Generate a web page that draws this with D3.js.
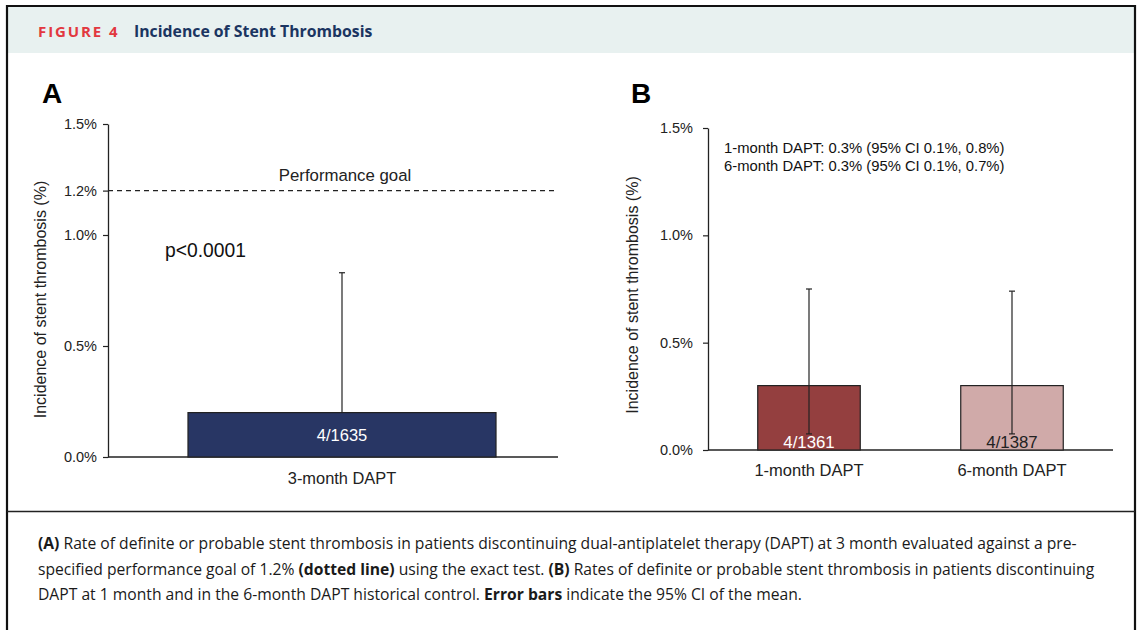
<!DOCTYPE html>
<html>
<head>
<meta charset="utf-8">
<script src="https://cdn.jsdelivr.net/npm/d3@7"></script>
<style>
  html, body { margin: 0; padding: 0; background: #fff; }
  svg { display: block; }
</style>
</head>
<body>
<svg id="chart" width="1143" height="630"></svg>
<script>
// ---------- DATA ----------
const panelACategories = ["3-month DAPT"];
const panelAValues = [0.2];
const panelACiLow = [0.07];
const panelACiHigh = [0.83];
const panelALabels = ["4/1635"];
const panelATicks = [0, 0.5, 1.0, 1.2, 1.5];
const performanceGoal = 1.2;

const panelBCategories = ["1-month DAPT", "6-month DAPT"];
const panelBValues = [0.3, 0.3];
const panelBCiLow = [0.075, 0.075];
const panelBCiHigh = [0.75, 0.74];
const panelBLabels = ["4/1361", "4/1387"];
const panelBTicks = [0, 0.5, 1.0, 1.5];
const panelBNotes = [
  "1-month DAPT: 0.3% (95% CI 0.1%, 0.8%)",
  "6-month DAPT: 0.3% (95% CI 0.1%, 0.7%)"
];

const svg = d3.select("#chart");
const chartFont = "'Liberation Sans', Arial, sans-serif";
const jFont = "'Open Sans', 'Noto Sans', sans-serif";

// ---------- FRAME ----------
svg.append("rect").attr("x", 7).attr("y", 6).attr("width", 1128).attr("height", 47)
  .attr("fill", "#e8f1f0");
svg.append("path")
  .attr("d", "M7,640 V6 H1135 V640")
  .attr("fill", "none").attr("stroke", "#111").attr("stroke-width", 2.2);
svg.append("line").attr("x1", 7).attr("x2", 1135).attr("y1", 511.5).attr("y2", 511.5)
  .attr("stroke", "#222").attr("stroke-width", 1.3);

// header
const hdr = svg.append("text").attr("x", 38).attr("y", 37)
  .attr("font-family", jFont).attr("font-weight", 700);
hdr.append("tspan").attr("fill", "#e2383f").attr("font-size", 15)
  .attr("letter-spacing", 1.9).text("FIGURE 4");
hdr.append("tspan").attr("x", 134).attr("fill", "#1b3561").attr("font-size", 15.8)
  .text("Incidence of Stent Thrombosis");

// ---------- helpers ----------
function drawYAxis(g, y, x0, ticks, pad) {
  const ax = d3.axisLeft(y).tickValues(ticks).tickSize(5).tickPadding(pad)
    .tickSizeOuter(0).tickFormat(d => d3.format(".1f")(d) + "%");
  const axG = g.append("g").attr("transform", `translate(${x0},0)`).call(ax);
  axG.select(".domain").attr("stroke", "#222").attr("stroke-width", 1.3);
  axG.selectAll(".tick line").attr("stroke", "#222").attr("stroke-width", 1.2);
  axG.selectAll(".tick text").attr("font-family", chartFont).attr("font-size", 14.5)
    .attr("fill", "#222");
  return axG;
}

// ---------- PANEL A ----------
const gA = svg.append("g");
const yA = d3.scaleLinear().domain([0, 1.5]).range([457, 124]);
const xA = d3.scaleBand().domain(panelACategories).range([126, 558]);
const axisAStart = 108, axisAEnd = 558;
const barWA = xA.bandwidth() * 0.713;

gA.append("text").attr("x", 42).attr("y", 103).attr("font-family", chartFont)
  .attr("font-weight", 700).attr("font-size", 28).attr("fill", "#000").text("A");

drawYAxis(gA, yA, axisAStart, panelATicks, 6);
gA.append("line").attr("x1", axisAStart).attr("x2", axisAEnd)
  .attr("y1", yA(0)).attr("y2", yA(0)).attr("stroke", "#222").attr("stroke-width", 1.3);

gA.append("text").attr("transform", `translate(46,${(yA(0) + yA(1.5)) / 2 + 9}) rotate(-90)`)
  .attr("text-anchor", "middle").attr("font-family", chartFont).attr("font-size", 16)
  .attr("fill", "#222").text("Incidence of stent thrombosis (%)");

// performance goal
gA.append("line").attr("x1", axisAStart).attr("x2", axisAEnd)
  .attr("y1", yA(performanceGoal)).attr("y2", yA(performanceGoal))
  .attr("stroke", "#222").attr("stroke-width", 1.2).attr("stroke-dasharray", "5,4");
gA.append("text").attr("x", 345).attr("y", yA(performanceGoal) - 10)
  .attr("text-anchor", "middle").attr("font-family", chartFont).attr("font-size", 16.8)
  .attr("fill", "#222").text("Performance goal");
gA.append("text").attr("x", 165).attr("y", 257).attr("font-family", chartFont)
  .attr("font-size", 19.3).attr("fill", "#111").text("p<0.0001");

// error bars A (upper part visible above bar)
panelACategories.forEach((c, i) => {
  const cx = xA(c) + xA.bandwidth() / 2;
  gA.append("line").attr("x1", cx).attr("x2", cx)
    .attr("y1", yA(panelACiLow[i])).attr("y2", yA(panelACiHigh[i]))
    .attr("stroke", "#222").attr("stroke-width", 1.2);
  gA.append("line").attr("x1", cx - 3).attr("x2", cx + 3)
    .attr("y1", yA(panelACiHigh[i])).attr("y2", yA(panelACiHigh[i]))
    .attr("stroke", "#222").attr("stroke-width", 1.2);
});
gA.selectAll("rect.barA").data(panelACategories).join("rect")
  .attr("class", "barA")
  .attr("x", d => xA(d) + (xA.bandwidth() - barWA) / 2)
  .attr("width", barWA)
  .attr("y", (d, i) => yA(panelAValues[i]))
  .attr("height", (d, i) => yA(0) - yA(panelAValues[i]))
  .attr("fill", "#283664").attr("stroke", "#222").attr("stroke-width", 1.2);
gA.selectAll("text.lblA").data(panelACategories).join("text")
  .attr("class", "lblA")
  .attr("x", d => xA(d) + xA.bandwidth() / 2)
  .attr("y", (d, i) => (yA(0) + yA(panelAValues[i])) / 2 + 6)
  .attr("text-anchor", "middle").attr("font-family", chartFont).attr("font-size", 16.5)
  .attr("fill", "#fff").text((d, i) => panelALabels[i]);
gA.selectAll("text.catA").data(panelACategories).join("text")
  .attr("class", "catA")
  .attr("x", d => xA(d) + xA.bandwidth() / 2).attr("y", 484)
  .attr("text-anchor", "middle").attr("font-family", chartFont).attr("font-size", 16.4)
  .attr("fill", "#222").text(d => d);

// ---------- PANEL B ----------
const gB = svg.append("g");
const yB = d3.scaleLinear().domain([0, 1.5]).range([450, 128]);
const xB = d3.scaleBand().domain(panelBCategories).range([707.5, 1113.5]);
const axisBStart = 708;
const barWB = xB.bandwidth() * 0.505;
const barColorsB = ["#943f3f", "#d0aaa9"];
const labelColorsB = ["#fff", "#222"];

gB.append("text").attr("x", 631).attr("y", 103).attr("font-family", chartFont)
  .attr("font-weight", 700).attr("font-size", 28).attr("fill", "#000").text("B");

drawYAxis(gB, yB, axisBStart, panelBTicks, 10);
gB.append("line").attr("x1", axisBStart).attr("x2", 1113)
  .attr("y1", yB(0)).attr("y2", yB(0)).attr("stroke", "#222").attr("stroke-width", 1.3);

gB.append("text").attr("transform", `translate(638,${(yB(0) + yB(1.5)) / 2 + 6}) rotate(-90)`)
  .attr("text-anchor", "middle").attr("font-family", chartFont).attr("font-size", 16)
  .attr("fill", "#222").text("Incidence of stent thrombosis (%)");

gB.selectAll("text.note").data(panelBNotes).join("text")
  .attr("class", "note")
  .attr("x", 724).attr("y", (d, i) => 153 + i * 18)
  .attr("font-family", chartFont).attr("font-size", 14.8)
  .attr("fill", "#111").text(d => d);

gB.selectAll("rect.barB").data(panelBCategories).join("rect")
  .attr("class", "barB")
  .attr("x", d => xB(d) + (xB.bandwidth() - barWB) / 2)
  .attr("width", barWB)
  .attr("y", (d, i) => yB(panelBValues[i]))
  .attr("height", (d, i) => yB(0) - yB(panelBValues[i]))
  .attr("fill", (d, i) => barColorsB[i]).attr("stroke", "#222").attr("stroke-width", 1.2);
gB.selectAll("text.lblB").data(panelBCategories).join("text")
  .attr("class", "lblB")
  .attr("x", d => xB(d) + xB.bandwidth() / 2)
  .attr("y", yB(0) - 2)
  .attr("text-anchor", "middle").attr("font-family", chartFont).attr("font-size", 16.8)
  .attr("fill", (d, i) => labelColorsB[i]).text((d, i) => panelBLabels[i]);
panelBCategories.forEach((c, i) => {
  const cx = xB(c) + xB.bandwidth() / 2;
  gB.append("line").attr("x1", cx).attr("x2", cx)
    .attr("y1", yB(panelBCiLow[i])).attr("y2", yB(panelBCiHigh[i]))
    .attr("stroke", "#222").attr("stroke-width", 1.2);
  [panelBCiLow[i], panelBCiHigh[i]].forEach(v => {
    gB.append("line").attr("x1", cx - 3).attr("x2", cx + 3)
      .attr("y1", yB(v)).attr("y2", yB(v))
      .attr("stroke", "#222").attr("stroke-width", 1.2);
  });
});
gB.selectAll("text.catB").data(panelBCategories).join("text")
  .attr("class", "catB")
  .attr("x", d => xB(d) + xB.bandwidth() / 2).attr("y", 476)
  .attr("text-anchor", "middle").attr("font-family", chartFont).attr("font-size", 16.5)
  .attr("fill", "#222").text(d => d);

// ---------- CAPTION ----------
const captionLines = [
  [["(A)", true], [" Rate of definite or probable stent thrombosis in patients discontinuing dual-antiplatelet therapy (DAPT) at 3 month evaluated against a pre-", false]],
  [["specified performance goal of 1.2% ", false], ["(dotted line)", true], [" using the exact test. ", false], ["(B)", true], [" Rates of definite or probable stent thrombosis in patients discontinuing", false]],
  [["DAPT at 1 month and in the 6-month DAPT historical control. ", false], ["Error bars", true], [" indicate the 95% CI of the mean.", false]]
];
const capTarget = 1039;
const capG = svg.append("g");
const capTexts = captionLines.map(line => {
  const t = capG.append("text").attr("x", 0).attr("y", 0)
    .attr("font-family", jFont).attr("font-size", 15.5).attr("fill", "#1a1a1a");
  line.forEach(([s, b]) => t.append("tspan").attr("font-weight", b ? 700 : 400).text(s));
  return t;
});
const natW = capTexts[0].node().getComputedTextLength();
const sx = capTarget / natW;
capTexts.forEach((t, i) => {
  t.attr("transform", `translate(38,${549 + i * 25.5}) scale(${sx},1)`);
});
</script>
</body>
</html>
